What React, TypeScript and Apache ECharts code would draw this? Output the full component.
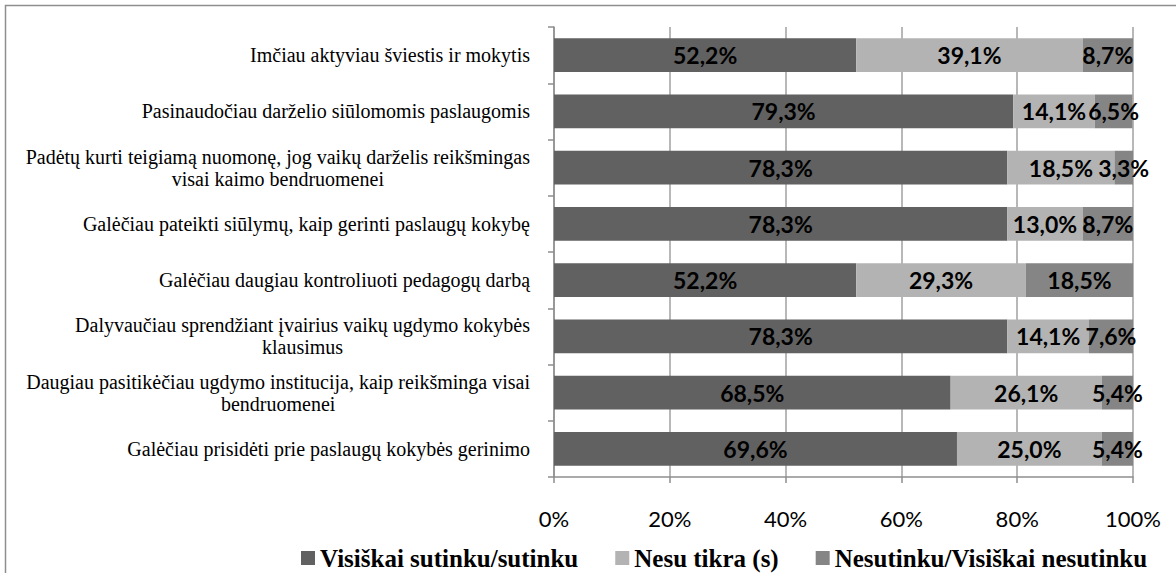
import React, { useEffect, useRef } from "react";
import * as echarts from "echarts";

const categories = [
  "Imčiau aktyviau šviestis ir mokytis",
  "Pasinaudočiau darželio siūlomomis paslaugomis",
  "Padėtų kurti teigiamą nuomonę, jog vaikų darželis reikšmingas\nvisai kaimo bendruomenei",
  "Galėčiau pateikti siūlymų, kaip gerinti paslaugų kokybę",
  "Galėčiau daugiau kontroliuoti pedagogų darbą",
  "Dalyvaučiau sprendžiant įvairius vaikų ugdymo kokybės\nklausimus",
  "Daugiau pasitikėčiau ugdymo institucija, kaip reikšminga visai\nbendruomenei",
  "Galėčiau prisidėti prie paslaugų kokybės gerinimo",
];

const seriesNames = [
  "Visiškai sutinku/sutinku",
  "Nesu tikra (s)",
  "Nesutinku/Visiškai nesutinku",
];

const agree = [52.2, 79.3, 78.3, 78.3, 52.2, 78.3, 68.5, 69.6];
const unsure = [39.1, 14.1, 18.5, 13.0, 29.3, 14.1, 26.1, 25.0];
const disagree = [8.7, 6.5, 3.3, 8.7, 18.5, 7.6, 5.4, 5.4];

const xTicks = [0, 20, 40, 60, 80, 100];

const colors = ["#616161", "#b3b3b3", "#858585"];

export default function App() {
  const ref = useRef<HTMLDivElement>(null);
  useEffect(() => {
    document.body.style.margin = "0";
    if (!ref.current) return;
    const chart = echarts.init(ref.current, null, { renderer: "svg" });
    const catFont = "'Liberation Serif', 'Times New Roman', serif";
    const numFont = "Lato, 'Open Sans', sans-serif";
    const fmt = (v: number) => v.toFixed(1).replace(".", ",") + "%";
    const dataSets = [agree, unsure, disagree];
    chart.setOption({
      animation: false,
      backgroundColor: "#ffffff",
      graphic: [
        {
          type: "rect",
          shape: { x: 5.5, y: 5.5, width: 1300, height: 700 },
          style: { fill: "none", stroke: "#8e8e8e", lineWidth: 1.5 },
          silent: true,
        },
      ],
      grid: { left: 554, right: 43, top: 27, bottom: 96, containLabel: false },
      legend: {
        left: 301,
        top: 545,
        padding: 0,
        itemWidth: 14,
        itemHeight: 14,
        itemGap: 37,
        icon: "rect",
        textStyle: {
          fontFamily: catFont,
          fontWeight: "bold",
          fontSize: 25,
          lineHeight: 26,
          color: "#000",
        },
        data: seriesNames,
      },
      xAxis: {
        type: "value",
        min: xTicks[0],
        max: xTicks[xTicks.length - 1],
        interval: 20,
        axisLine: { show: true, lineStyle: { color: "#8e8e8e", width: 1.5 } },
        axisTick: { show: true, length: 6, lineStyle: { color: "#8e8e8e", width: 1.5 } },
        splitLine: { show: true, lineStyle: { color: "#a0a0a0", width: 1.5 } },
        axisLabel: {
          formatter: (v: number) => v + "%",
          fontFamily: numFont,
          fontSize: 22,
          color: "#000",
          margin: 30,
        },
      },
      yAxis: {
        type: "category",
        inverse: true,
        data: categories,
        axisLine: { show: true, lineStyle: { color: "#8e8e8e", width: 1.5 } },
        axisTick: { show: true, length: 6, lineStyle: { color: "#8e8e8e", width: 1.5 } },
        axisLabel: {
          margin: 24,
          align: "right",
          formatter: (v: string) =>
            v
              .split("\n")
              .map((l) => "{c|" + l + "}")
              .join("\n"),
          rich: {
            c: {
              align: "center",
              fontFamily: catFont,
              fontSize: 20,
              lineHeight: 22,
              color: "#000",
            },
          },
        },
      },
      series: dataSets.map((d, i) => ({
        name: seriesNames[i],
        type: "bar",
        stack: "total",
        barCategoryGap: "40%",
        data: d,
        itemStyle: { color: colors[i] },
        label: {
          show: true,
          position: "inside",
          formatter: (p: any) => fmt(p.value),
          fontFamily: numFont,
          fontWeight: "bold",
          fontSize: 23,
          color: "#000",
        },
      })),
    });
    return () => chart.dispose();
  }, []);
  return <div ref={ref} style={{ width: 1176, height: 573 }} />;
}
